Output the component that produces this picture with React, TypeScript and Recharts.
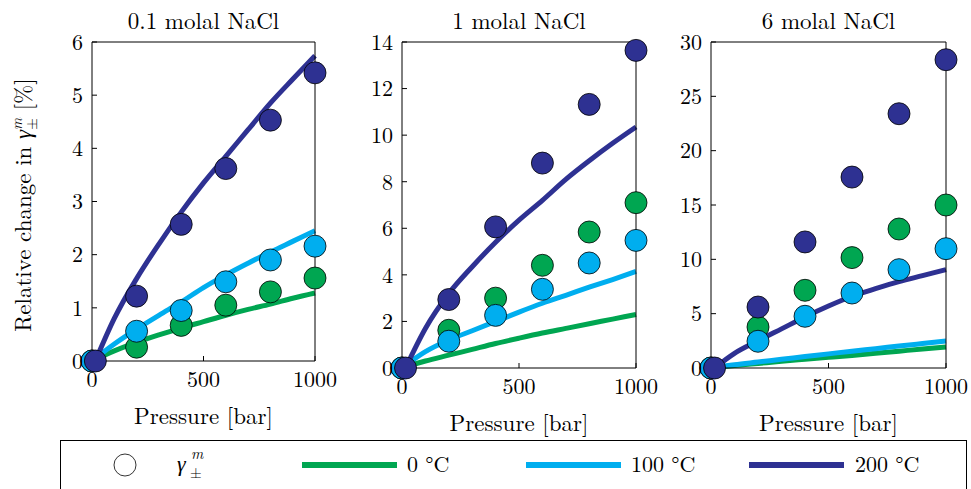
import React from "react";
import { ComposedChart, Scatter, Line, XAxis, YAxis } from "recharts";

const FONT = "'Latin Modern Roman', 'Liberation Serif', serif";
const FS = 22;
const FS_LABEL = 23;

const temps = ["0 °C", "100 °C", "200 °C"];
const colors = ["#00A651", "#00AEEF", "#2E3192"];

// measured pressures (200 °C starts at saturation pressure)
const pointP = [0, 200, 400, 600, 800, 1000];
const pointP200 = [15, 200, 400, 600, 800, 1000];
const fitP = [0, 100, 200, 300, 400, 500, 600, 700, 800, 900, 1000];
const fitP200 = [15, 100, 200, 300, 400, 500, 600, 700, 800, 900, 1000];
const xTicks = [0, 500, 1000];

// 0.1 molal
const pts01_0 = [0, 0.26, 0.67, 1.05, 1.3, 1.56];
const pts01_100 = [0, 0.56, 0.95, 1.49, 1.9, 2.16];
const pts01_200 = [0, 1.22, 2.57, 3.62, 4.53, 5.42];
const fit01_0 = [0, 0.19, 0.35, 0.49, 0.62, 0.74, 0.86, 0.97, 1.07, 1.18, 1.28];
const fit01_100 = [0, 0.32, 0.6, 0.86, 1.11, 1.38, 1.62, 1.84, 2.05, 2.25, 2.45];
const fit01_200 = [0, 0.8, 1.55, 2.2, 2.8, 3.35, 3.85, 4.35, 4.85, 5.3, 5.74];

// 1 molal
const pts1_0 = [0, 1.62, 3.0, 4.41, 5.84, 7.1];
const pts1_100 = [0, 1.15, 2.26, 3.38, 4.51, 5.48];
const pts1_200 = [0, 2.94, 6.06, 8.8, 11.32, 13.64];
const fit1_0 = [0, 0.3, 0.55, 0.8, 1.05, 1.28, 1.5, 1.7, 1.9, 2.1, 2.3];
const fit1_100 = [0, 0.7, 1.2, 1.6, 2.0, 2.4, 2.78, 3.12, 3.47, 3.8, 4.15];
const fit1_200 = [0, 1.7, 3.2, 4.35, 5.4, 6.35, 7.2, 8.1, 8.9, 9.65, 10.35];

// 6 molal
const pts6_0 = [0, 3.77, 7.15, 10.16, 12.79, 15.0];
const pts6_100 = [0, 2.46, 4.76, 6.9, 9.05, 10.98];
const pts6_200 = [0, 5.61, 11.6, 17.57, 23.4, 28.37];
const fit6_0 = [0, 0.22, 0.42, 0.62, 0.8, 0.98, 1.16, 1.35, 1.55, 1.75, 1.93];
const fit6_100 = [0, 0.3, 0.55, 0.8, 1.05, 1.3, 1.55, 1.78, 2.02, 2.25, 2.48];
const fit6_200 = [0, 1.35, 2.5, 3.6, 4.7, 5.7, 6.6, 7.3, 7.95, 8.5, 9.05];

const titles = ["0.1 molal NaCl", "1 molal NaCl", "6 molal NaCl"];
const yTicks = [
  [0, 1, 2, 3, 4, 5, 6],
  [0, 2, 4, 6, 8, 10, 12, 14],
  [0, 5, 10, 15, 20, 25, 30],
];
const points = [
  [pts01_0, pts01_100, pts01_200],
  [pts1_0, pts1_100, pts1_200],
  [pts6_0, pts6_100, pts6_200],
];
const fits = [
  [fit01_0, fit01_100, fit01_200],
  [fit1_0, fit1_100, fit1_200],
  [fit6_0, fit6_100, fit6_200],
];

// plot-area boxes in page pixels
const boxes = [
  { x0: 92, x1: 316, y0: 42, y1: 361 },
  { x0: 402, x1: 637, y0: 42, y1: 368 },
  { x0: 711, x1: 947, y0: 42, y1: 368 },
];

const toRows = (ps: number[], vs: number[]) => ps.map((p, i) => ({ p, v: vs[i] }));

const tickStyle = { fill: "#000", fontSize: FS, style: { fontFamily: FONT } };
const labelStyle = { fill: "#000", fontSize: FS_LABEL, style: { fontFamily: FONT } };

function Panel({ idx }: { idx: number }) {
  const box = boxes[idx];
  const yW = 60;
  const mRight = 30;
  const height = 450;
  const bottomH = 75;
  const ticks = yTicks[idx];
  const yMax = ticks[ticks.length - 1];
  const width = box.x1 - box.x0 + yW + mRight;

  return (
    <div style={{ position: "absolute", left: box.x0 - yW, top: 0 }}>
      <ComposedChart
        width={width}
        height={height}
        margin={{ top: box.y0 - 1, right: mRight, bottom: height - box.y1 - bottomH, left: 0 }}
      >
        <XAxis
          type="number"
          dataKey="p"
          domain={[0, 1000]}
          ticks={xTicks}
          interval={0}
          height={bottomH}
          stroke="#000"
          tickSize={-5}
          tickMargin={15}
          tick={tickStyle}
          label={{ value: "Pressure [bar]", position: "insideBottom", offset: 12, ...labelStyle }}
        />
        <XAxis
          xAxisId="top"
          orientation="top"
          type="number"
          domain={[0, 1000]}
          ticks={xTicks}
          height={1}
          stroke="#000"
          tickSize={-5}
          tick={false}
          label={{ value: titles[idx], position: "top", offset: 12, ...labelStyle }}
        />
        <YAxis
          type="number"
          dataKey="v"
          domain={[0, yMax]}
          ticks={ticks}
          interval={0}
          width={yW}
          stroke="#000"
          tickSize={-5}
          tickMargin={14}
          tick={tickStyle}
        />
        <YAxis
          yAxisId="right"
          orientation="right"
          type="number"
          domain={[0, yMax]}
          ticks={ticks}
          width={1}
          stroke="#000"
          tickSize={-5}
          tick={false}
        />
        {points[idx].map((vals, k) => (
          <Scatter
            key={"s" + k}
            data={toRows(k === 2 ? pointP200 : pointP, vals)}
            isAnimationActive={false}
            shape={(props: any) => (
              <circle cx={props.cx} cy={props.cy} r={11} fill={colors[k]} stroke="#000" strokeWidth={0.8} />
            )}
          />
        ))}
        {fits[idx].map((vals, k) => (
          <Line
            key={"l" + k}
            data={toRows(k === 2 ? fitP200 : fitP, vals)}
            dataKey="v"
            type="monotone"
            stroke={colors[k]}
            strokeWidth={5}
            dot={false}
            activeDot={false}
            isAnimationActive={false}
          />
        ))}
      </ComposedChart>
    </div>
  );
}

function Overlay() {
  const lineX = [302, 526, 749];
  const textX = [407, 631, 855];
  const txt = { fontFamily: FONT };
  return (
    <svg width={971} height={489} style={{ position: "absolute", left: 0, top: 0, pointerEvents: "none" }}>
      <text transform="translate(31,205) rotate(-90)" textAnchor="middle" fontSize={FS_LABEL} fill="#000" style={txt}>
        Relative change in <tspan fontStyle="italic">γ</tspan>
        <tspan fontSize={15} fontStyle="italic" dy={-9}>m</tspan>
        <tspan fontSize={15} dx={-12} dy={15}>±</tspan>
        <tspan dy={-6}> [%]</tspan>
      </text>
      <rect x={60.5} y={440.5} width={906} height={80} fill="none" stroke="#000" strokeWidth={1} />
      <circle cx={125} cy={465} r={11} fill="#fff" stroke="#000" strokeWidth={0.8} />
      <text x={177} y={471} fontSize={FS} fontStyle="italic" fill="#000" style={txt}>γ</text>
      <text x={191} y={459} fontSize={15} fontStyle="italic" fill="#000" style={txt}>m</text>
      <text x={190} y={478} fontSize={15} fill="#000" style={txt}>±</text>
      {temps.map((t, k) => (
        <g key={t}>
          <line x1={lineX[k]} x2={lineX[k] + 95} y1={465} y2={465} stroke={colors[k]} strokeWidth={6} />
          <text x={textX[k]} y={472} fontSize={FS} fill="#000" style={txt}>{t}</text>
        </g>
      ))}
    </svg>
  );
}

export default function App() {
  return (
    <div
      style={{
        position: "absolute",
        left: 0,
        top: 0,
        width: 971,
        height: 489,
        overflow: "hidden",
        background: "#fff",
        fontFamily: FONT,
      }}
    >
      {[0, 1, 2].map((i) => (
        <Panel key={i} idx={i} />
      ))}
      <Overlay />
    </div>
  );
}
